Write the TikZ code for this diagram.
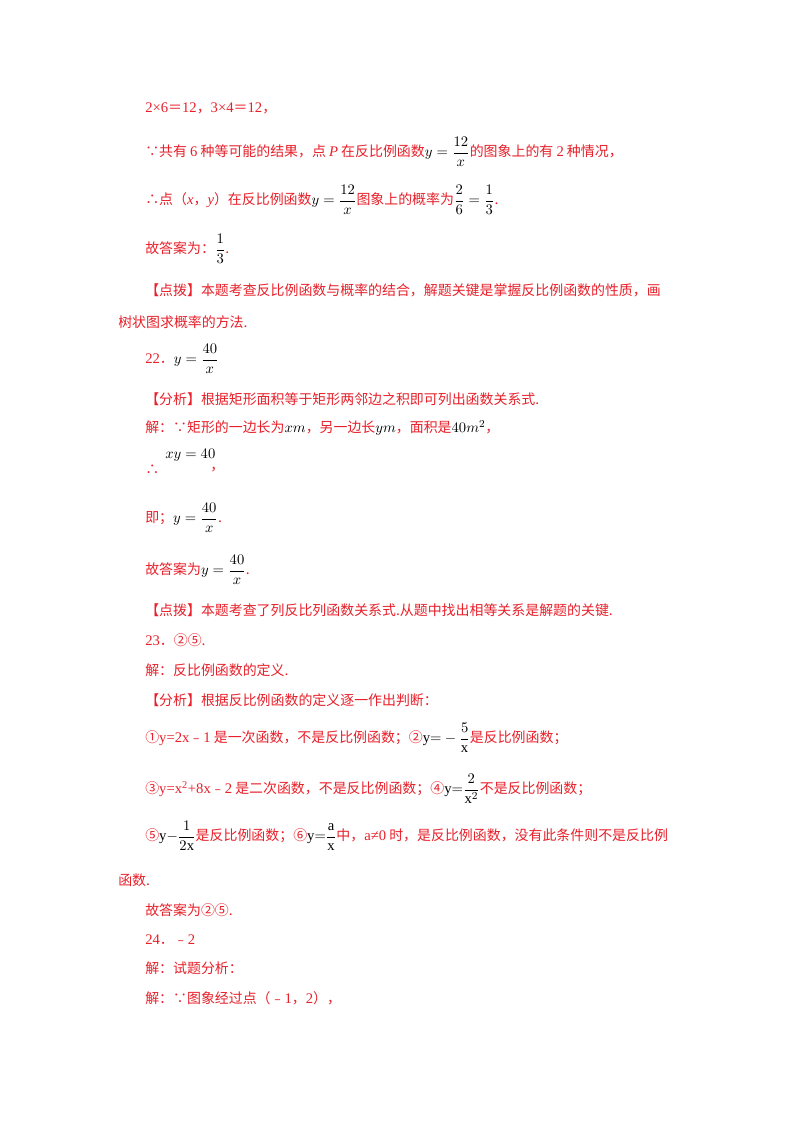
\documentclass[tikz,border=0pt]{standalone}
\usepackage{amsmath}
\usepackage{fontspec}
\setmainfont{Noto Sans CJK SC}[Scale=0.95]
\setmathrm{Liberation Serif}
\newfontfamily\lat{Liberation Serif}
\definecolor{ans}{RGB}{232,32,42}
\begin{document}
\begin{tikzpicture}[x=0.75pt,y=-0.75pt,
  ln/.style={anchor=west,inner sep=0pt,text=ans,font=\fontsize{11}{13}\selectfont}]
\useasboundingbox[fill=white] (0,0) rectangle (800,1132);
\newcommand{\bk}[1]{\textcolor{black}{#1}}
\node[ln] (l1) at (145,108) {{\lat 2×6}＝{\lat 12}，{\lat 3×4}＝{\lat 12}，};
\node[ln] (l2) at (145,152) {∵共有 {\lat 6} 种等可能的结果，点 {\lat\itshape P} 在反比例函数\bk{$y=\dfrac{12}{x}$}的图象上的有 {\lat 2} 种情况，};
\node[ln] (l3) at (145,200) {∴点（{\lat\itshape x}，{\lat\itshape y}）在反比例函数\bk{$y=\dfrac{12}{x}$}图象上的概率为\bk{$\dfrac{2}{6}=\dfrac{1}{3}$}.};
\node[ln] (l4) at (145,249) {故答案为：\bk{$\dfrac{1}{3}$}.};
\node[ln] (l5) at (145,290) {【点拨】本题考查反比例函数与概率的结合，解题关键是掌握反比例函数的性质，画};
\node[ln] (l6) at (118,322) {树状图求概率的方法.};
\node[ln] (l7) at (145,359) {{\lat 22}．\bk{$y=\dfrac{40}{x}$}};
\node[ln] (l8) at (145,399) {【分析】根据矩形面积等于矩形两邻边之积即可列出函数关系式.};
\node[ln] (l9) at (145,428) {解：∵矩形的一边长为\bk{$xm$}，另一边长\bk{$ym$}，面积是\bk{$40m^2$}，};
\node[ln] (l10a) at (145,470) {∴};
\node[ln] (l10b) at (165,455) {\bk{$xy=40$}};
\node[ln] (l10c) at (210,470) {，};
\node[ln] (l11) at (145,518) {即；\bk{$y=\dfrac{40}{x}$}.};
\node[ln] (l12) at (145,570) {故答案为\bk{$y=\dfrac{40}{x}$}.};
\node[ln] (l13) at (145,610) {【点拨】本题考查了列反比列函数关系式.从题中找出相等关系是解题的关键.};
\node[ln] (l14) at (145,640) {{\lat 23}．②⑤.};
\node[ln] (l15) at (145,670) {解：反比例函数的定义.};
\node[ln] (l16) at (145,700) {【分析】根据反比例函数的定义逐一作出判断：};
\node[ln] (l17) at (145,738) {①{\lat y=2x}﹣{\lat 1} 是一次函数，不是反比例函数；②\bk{$\mathrm{y}{=}-\dfrac{5}{\mathrm{x}}$}是反比例函数；};
\node[ln] (l18) at (145,789) {③{\lat y=x\textsuperscript{2}+8x}﹣{\lat 2} 是二次函数，不是反比例函数；④\bk{$\mathrm{y}{=}\dfrac{2}{\mathrm{x}^2}$}不是反比例函数；};
\node[ln] (l19) at (145,836) {⑤\bk{$\mathrm{y}{-}\dfrac{1}{2\mathrm{x}}$}是反比例函数；⑥\bk{$\mathrm{y}{=}\dfrac{\mathrm{a}}{\mathrm{x}}$}中，{\lat a≠0} 时，是反比例函数，没有此条件则不是反比例};
\node[ln] (l20) at (118,880) {函数.};
\node[ln] (l21) at (145,910) {故答案为②⑤.};
\node[ln] (l22) at (145,940) {{\lat 24}．﹣{\lat 2}};
\node[ln] (l23) at (145,968) {解：试题分析：};
\node[ln] (l24) at (145,998) {解：∵图象经过点（﹣{\lat 1}，{\lat 2}），};
\end{tikzpicture}
\end{document}
